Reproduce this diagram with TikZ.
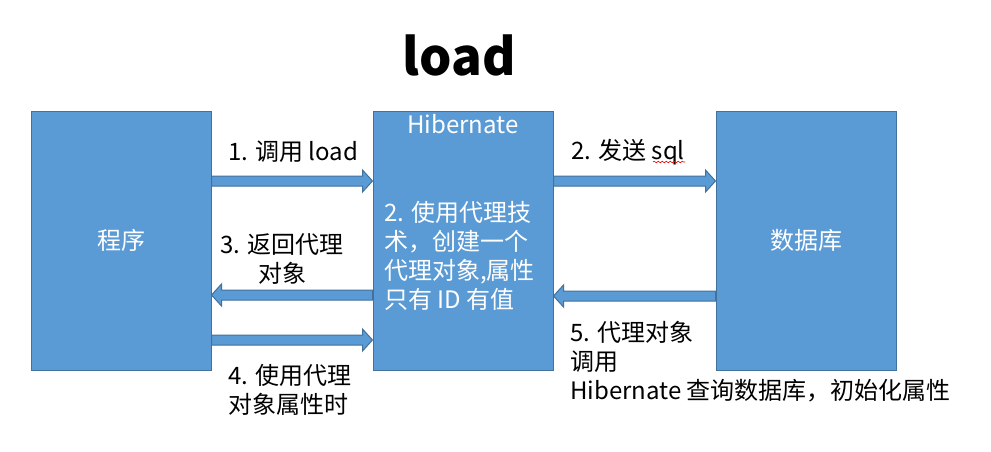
\documentclass[tikz,border=0pt]{standalone}
\usepackage{fontspec}
\setmainfont{Noto Sans CJK SC}
\usetikzlibrary{calc,decorations.pathmorphing}
\definecolor{boxfill}{HTML}{5B9BD5}
\definecolor{boxline}{HTML}{41719C}
\tikzset{
  blk/.style={draw=boxline,fill=boxfill,line width=1pt,minimum width=180pt,minimum height=259pt,inner sep=0pt},
  wtxt/.style={text=white,font=\fontsize{24}{29}\selectfont,inner sep=0pt},
  btxt/.style={text=black,font=\fontsize{24}{29}\selectfont,inner sep=0pt},
  barrow/.style={draw=boxline,fill=boxfill,line width=1pt,line join=miter}
}
\newcommand\blockarrow[2]{%
  \draw[barrow] let \p1=(#1), \p2=(#2), \n1={sign(\x2-\x1)} in
    (\x1,\y1+5pt) -- (\x2-\n1*10pt,\y1+5pt) -- (\x2-\n1*10pt,\y1+11pt) -- (\x2,\y1)
    -- (\x2-\n1*10pt,\y1-11pt) -- (\x2-\n1*10pt,\y1-5pt) -- (\x1,\y1-5pt) -- cycle;}
\begin{document}
\begin{tikzpicture}[x=1pt,y=1pt]
\useasboundingbox (0,0) rectangle (991,-451);
\node[font=\fontsize{51}{56}\selectfont\bfseries,inner sep=0pt] (title) at (459,-55) {load};
\node[blk] (prog) at (121,-240.5) {};
\node[blk] (hib) at (463,-240.5) {};
\node[blk] (db) at (806,-240.5) {};
\node[wtxt] (progt) at (prog.center) {程序};
\node[wtxt] (dbt) at (db.center) {数据库};
\node[wtxt] (hibt) at (463,-124) {Hibernate};
\node[wtxt,align=left,anchor=north west] (hibd) at (384,-201) {2. 使用代理技\\术，创建一个\\代理对象,属性\\只有 ID 有值};
% arrow endpoints
\coordinate (a1s) at (prog.east |- 0,-181);
\coordinate (a1e) at (hib.west |- 0,-181);
\coordinate (a3s) at (hib.west |- 0,-295);
\coordinate (a3e) at (prog.east |- 0,-295);
\coordinate (a4s) at (prog.east |- 0,-340);
\coordinate (a4e) at (hib.west |- 0,-340);
\coordinate (a2s) at (hib.east |- 0,-181);
\coordinate (a2e) at (db.west |- 0,-181);
\coordinate (a5s) at (db.west |- 0,-296);
\coordinate (a5e) at (hib.east |- 0,-296);
\blockarrow{a1s}{a1e}
\blockarrow{a3s}{a3e}
\blockarrow{a4s}{a4e}
\blockarrow{a2s}{a2e}
\blockarrow{a5s}{a5e}
% labels
\node[btxt] (l1) at (293,-152) {1. 调用 load};
\node[btxt] (l2) at (628,-152) {2. 发送 sql};
\draw[red,line width=0.6pt,decorate,decoration={snake,amplitude=0.8pt,segment length=4pt}] (653,-162) -- (685,-162);
\node[btxt,align=center,anchor=north] (l3) at (282,-233) {3. 返回代理\\对象};
\node[btxt,align=left,anchor=north west] (l4) at (228,-364) {4. 使用代理\\对象属性时};
\node[btxt,align=left,anchor=north west] (l5) at (570,-321) {5. 代理对象\\调用\\Hibernate 查询数据库，初始化属性};
\end{tikzpicture}
\end{document}
